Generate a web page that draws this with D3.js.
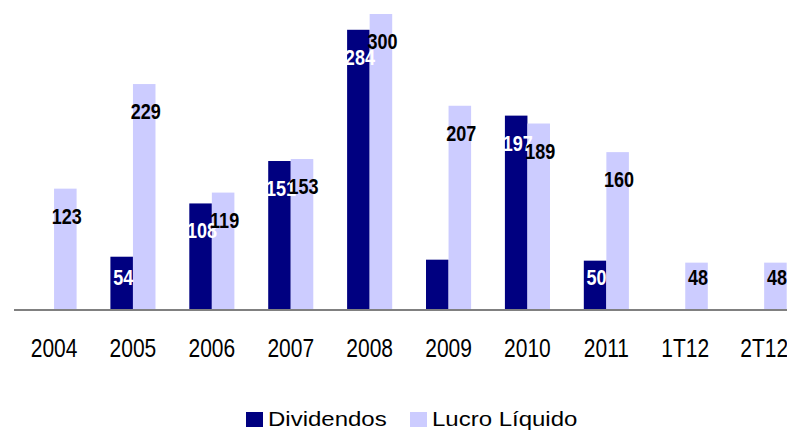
<!DOCTYPE html>
<html>
<head>
<meta charset="utf-8">
<script src="https://d3js.org/d3.v7.min.js"></script>
<style>
	body { margin: 0; background: #fff; }
	text { font-family: "Liberation Sans", Arial, sans-serif; }
</style>
</head>
<body>
<script>
	// chart data
	var categories = ["2004", "2005", "2006", "2007", "2008", "2009", "2010", "2011", "1T12", "2T12"];
	var dividendos = [null, 54, 108, 151, 284, 51, 197, 50, null, null];
	var lucroLiquido = [123, 229, 119, 153, 300, 207, 189, 160, 48, 48];
	var hiddenLabels = ["2009"];   // dividend label not shown in the original
	var seriesNames = ["Dividendos", "Lucro Líquido"];
	var seriesColors = ["#000080", "#ccccff"];

	var width = 787, height = 430;
	var svg = d3.select("body").append("svg")
		.attr("width", width)
		.attr("height", height);

	// scales - the last group runs past the right edge like the original
	var x = d3.scaleBand().domain(categories).range([14.6, 803.6]);
	var xs = d3.scaleBand().domain(seriesNames).range([0, x.bandwidth()])
		.paddingInner(0).paddingOuter(0.75);
	var y = d3.scaleLinear().domain([0, 300]).range([310, 14]);

	var rows = categories.map(function (c, i) {
		return { cat: c, values: [dividendos[i], lucroLiquido[i]] };
	});

	// bars
	var groups = svg.selectAll("g.group").data(rows).enter().append("g")
		.attr("class", "group")
		.attr("transform", function (d) { return "translate(" + x(d.cat) + ",0)"; });

	groups.selectAll("rect")
		.data(function (d) {
			return d.values.map(function (v, k) { return { cat: d.cat, k: k, v: v }; })
				.filter(function (e) { return e.v != null; });
		})
		.enter().append("rect")
		.attr("x", function (e) { return xs(seriesNames[e.k]); })
		.attr("width", xs.bandwidth())
		.attr("y", function (e) { return y(e.v); })
		.attr("height", function (e) { return y(0) - y(e.v); })
		.attr("fill", function (e) { return seriesColors[e.k]; });

	// value labels (condensed / tall look of the original)
	groups.selectAll("text.val")
		.data(function (d) {
			return d.values.map(function (v, k) { return { cat: d.cat, k: k, v: v }; })
				.filter(function (e) {
					return e.v != null && !(e.k === 0 && hiddenLabels.indexOf(e.cat) >= 0);
				});
		})
		.enter().append("text")
		.attr("class", "val")
		.attr("transform", function (e) {
			var cx = xs(seriesNames[e.k]) + xs.bandwidth() / 2 + 1.5;
			var by = Math.min(y(e.v) + 35, y(0) - 25);
			return "translate(" + cx + "," + by + ") scale(1,1.24)";
		})
		.attr("text-anchor", "middle")
		.style("font-size", "18px")
		.style("font-weight", "bold")
		.attr("fill", function (e) { return e.k === 0 ? "#ffffff" : "#000000"; })
		.text(function (e) { return e.v; });

	// axis line
	svg.append("line")
		.attr("x1", 14).attr("x2", width)
		.attr("y1", y(0)).attr("y2", y(0))
		.attr("stroke", "#808080")
		.attr("stroke-width", 2);

	// category labels
	svg.selectAll("text.cat").data(categories).enter().append("text")
		.attr("class", "cat")
		.attr("transform", function (c) {
			return "translate(" + (x(c) + x.bandwidth() / 2) + ",357) scale(1,1.23)";
		})
		.attr("text-anchor", "middle")
		.style("font-size", "21px")
		.attr("fill", "#000")
		.text(function (c) { return c; });

	// legend
	var legendX = [246, 410];
	var legend = svg.selectAll("g.legend").data(seriesNames).enter().append("g")
		.attr("class", "legend")
		.attr("transform", function (s, i) { return "translate(" + legendX[i] + ",0)"; });
	legend.append("rect")
		.attr("x", 0).attr("y", 412)
		.attr("width", 17).attr("height", 15)
		.attr("fill", function (s, i) { return seriesColors[i]; });
	legend.append("text")
		.attr("transform", "translate(22,426) scale(1,0.86)")
		.style("font-size", "24px")
		.attr("fill", "#000")
		.text(function (s) { return s; });
</script>
</body>
</html>
